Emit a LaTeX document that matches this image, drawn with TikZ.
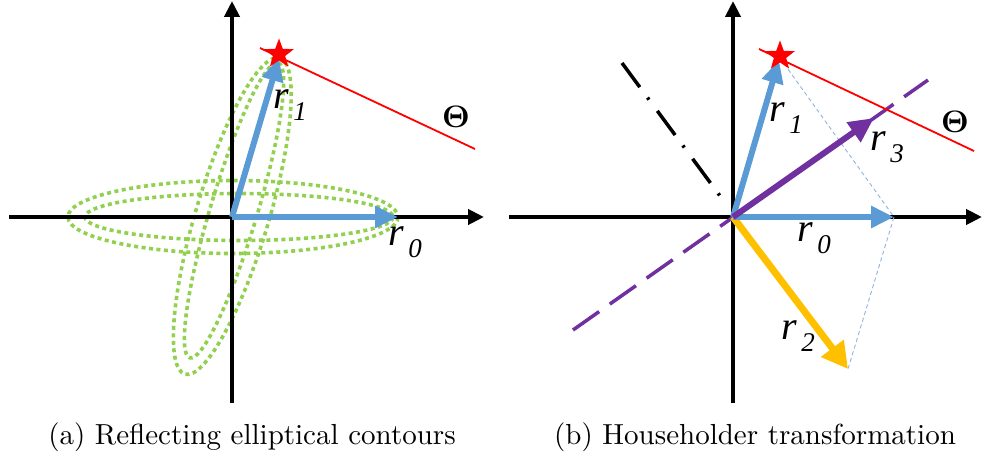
\documentclass[tikz,border=0pt]{standalone}
\usepackage[no-math]{fontspec}
\newfontfamily\tms{Liberation Serif}
\usetikzlibrary{arrows.meta,shapes.geometric}
\definecolor{axblue}{HTML}{5B9BD5}
\definecolor{ellgreen}{HTML}{92D050}
\definecolor{vpurple}{HTML}{7030A0}
\definecolor{vyellow}{HTML}{FFC000}
\definecolor{thinblue}{HTML}{8FB4DE}
\newcommand{\lsub}[1]{{\fontsize{27}{27}\selectfont\raisebox{-12pt}{\,#1}}}
\begin{document}
\begin{tikzpicture}[x=1pt,y=-1pt,
  axis/.style={line width=4pt,black,-{Triangle[length=16pt,width=15pt]}},
  vec/.style={line width=6pt,-{Triangle[length=23pt,width=21pt]}},
  ell/.style={ellgreen,line width=3.6pt,dash pattern=on 4pt off 3.5pt},
  theta/.style={red,line width=1.8pt},
  starmark/.style={star,star points=5,star point ratio=2.4,fill=red,draw=none,minimum size=31pt,inner sep=0pt},
  lbl/.style={font=\tms\itshape\fontsize{40}{40}\selectfont,inner sep=0pt,anchor=base west},
  thlbl/.style={inner sep=0pt,scale=3.1,font=\fontsize{10}{12}\selectfont},
  captxt/.style={inner sep=0pt,scale=2.9,font=\fontsize{10}{12}\selectfont},
  guide/.style={thinblue,line width=0.9pt,dash pattern=on 4pt off 3pt}]
\useasboundingbox (0,0) rectangle (982,454);
% ---------------- left panel ----------------
\coordinate (oa) at (232,217);
\coordinate (axl) at (9,217);
\coordinate (axr) at (484,217);
\coordinate (ayb) at (232,403);
\coordinate (ayt) at (232,1);
\coordinate (r0a) at (398,217);
\coordinate (r1a) at (279,58);
\coordinate (tha1) at (260,48);
\coordinate (tha2) at (475,149);
\draw[ell] (233,217) ellipse [x radius=165, y radius=36.5];
\draw[ell] (239,217) ellipse [x radius=154, y radius=23.5];
\begin{scope}[rotate around={73.3:(232,217)}]
\draw[ell] (233,217) ellipse [x radius=165, y radius=36.5];
\draw[ell] (239,217) ellipse [x radius=154, y radius=23.5];
\end{scope}
\draw[axis] (axl) -- (axr);
\draw[axis] (ayb) -- (ayt);
\draw[theta] (tha1) -- (tha2);
\draw[vec,axblue] (oa) -- (r0a);
\draw[vec,axblue] (oa) -- (r1a);
\node[starmark] (stara) at (279,54) {};
\node[lbl] (lr1a) at (273,109) {r\lsub{1}};
\node[lbl] (lr0a) at (388,246) {r\lsub{0}};
\node[thlbl] (ltha) at (456,117) {$\mathbf{\Theta}$};
\node[captxt] (capa) at (252,437) {(a) Reflecting elliptical contours};
% ---------------- right panel ----------------
\coordinate (ob) at (733,217);
\coordinate (bxl) at (509,217);
\coordinate (bxr) at (982,217);
\coordinate (byb) at (733,403);
\coordinate (byt) at (733,1);
\coordinate (r0b) at (894,217);
\coordinate (r1b) at (779,60);
\coordinate (r2b) at (848,369);
\coordinate (r3b) at (874,118);
\coordinate (pd1) at (573,330);
\coordinate (pd2) at (928,80);
\coordinate (dd1) at (622,63);
\coordinate (dd2) at (723,200);
\coordinate (thb1) at (759,49);
\coordinate (thb2) at (974,151);
\draw[axis] (bxl) -- (bxr);
\draw[axis] (byb) -- (byt);
\draw[black,line width=3.5pt,dash pattern=on 30pt off 13pt on 2.5pt off 14pt] (dd1) -- (dd2);
\draw[vpurple,line width=3.5pt,dash pattern=on 32pt off 13pt] (pd1) -- (pd2);
\draw[theta] (thb1) -- (thb2);
\draw[guide] (780,58) -- (r0b) -- (r2b);
\draw[vec,vyellow,line width=7pt,-{Triangle[length=26pt,width=27pt]}] (ob) -- (r2b);
\draw[vec,axblue] (ob) -- (r0b);
\draw[vec,axblue] (ob) -- (r1b);
\draw[vec,vpurple,-{Triangle[length=25pt,width=23pt]}] (ob) -- (r3b);
\node[starmark] (starb) at (780,56) {};
\node[lbl] (lr1b) at (769,122) {r\lsub{1}};
\node[lbl] (lr0b) at (797,242) {r\lsub{0}};
\node[lbl] (lr2b) at (781,339) {r\lsub{2}};
\node[lbl] (lr3b) at (870,151) {r\lsub{3}};
\node[thlbl] (lthb) at (955,122) {$\mathbf{\Theta}$};
\node[captxt] (capb) at (755,437) {(b) Householder transformation};
\end{tikzpicture}
\end{document}
